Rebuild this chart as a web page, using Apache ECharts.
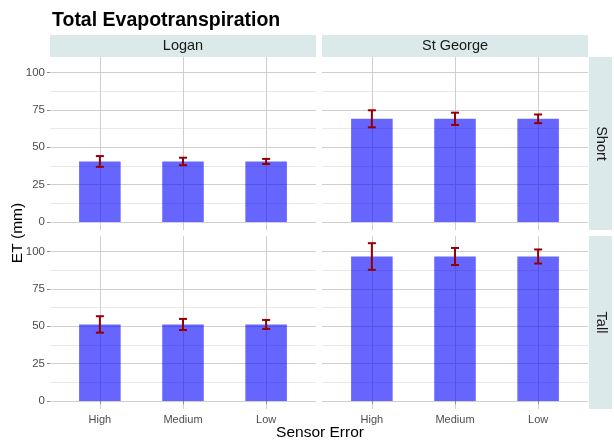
<!DOCTYPE html>
<html><head><meta charset="utf-8">
<script src="https://cdn.jsdelivr.net/npm/echarts@6/dist/echarts.min.js"></script>
<style>html,body{margin:0;padding:0;background:#fff}#chart{width:614px;height:441px}</style>
</head><body><div id="chart"></div>
<script>
// Sensor error classes on the x axis
const categories = ['High', 'Medium', 'Low'];
const sites = ['Logan', 'St George'];
const canopies = ['Short', 'Tall'];

// Mean total ET (mm) and error-bar half widths, one array per facet
const loganShortET = [40.5, 40.5, 40.5];
const loganShortErr = [3.6, 2.5, 1.7];
const loganTallET = [51.2, 51.2, 51.2];
const loganTallErr = [5.5, 3.7, 3.0];
const stGeorgeShortET = [69.0, 69.0, 69.0];
const stGeorgeShortErr = [5.7, 4.1, 2.9];
const stGeorgeTallET = [96.6, 96.6, 96.6];
const stGeorgeTallErr = [8.9, 5.7, 4.7];

const yMin = 0, yMax = 100, yStep = 25;

const FONT = '"Liberation Sans", Arial, Helvetica, sans-serif';
const panelLeft = [50, 322];
const panelTop = [57, 236];
const panelW = 266, panelH = 173;
const rangeLo = -5.3, rangeHi = 110.3;      // padded value range of each panel
const pxPerUnit = panelH / (rangeHi - rangeLo);
const catUnit = panelW / 3.2;               // width of one category step

const facets = [
  { row: 0, col: 0, et: loganShortET, err: loganShortErr },
  { row: 0, col: 1, et: stGeorgeShortET, err: stGeorgeShortErr },
  { row: 1, col: 0, et: loganTallET, err: loganTallErr },
  { row: 1, col: 1, et: stGeorgeTallET, err: stGeorgeTallErr }
];

const grids = [], xAxes = [], yAxes = [], series = [];
const majorColor = '#cfcfcf', minorColor = '#e9e9e9', tickColor = '#8a8a8a', labelColor = '#4d4d4d';

facets.forEach((f, i) => {
  const L = panelLeft[f.col], T = panelTop[f.row];
  const bottomRow = f.row === 1, leftCol = f.col === 0;
  // data grid: categories centred, full panel height
  grids.push({ left: L + 0.6 * catUnit, top: T, width: 2 * catUnit, height: panelH });
  xAxes.push({
    type: 'category', gridIndex: 2 * i, data: categories, boundaryGap: false,
    axisLine: { show: false },
    axisTick: { show: bottomRow, length: 3, lineStyle: { color: tickColor } },
    axisLabel: { show: bottomRow, fontFamily: FONT, fontSize: 11, color: labelColor, margin: 5 },
    splitLine: { show: true, lineStyle: { color: majorColor, width: 1 } }
  });
  yAxes.push({ type: 'value', gridIndex: 2 * i, min: rangeLo, max: rangeHi, show: false });

  // value grid: carries the horizontal grid lines and y labels
  grids.push({ left: L, top: T + (rangeHi - yMax) * pxPerUnit, width: panelW, height: (yMax - yMin) * pxPerUnit });
  xAxes.push({ type: 'value', gridIndex: 2 * i + 1, min: 0, max: 1, show: false });
  yAxes.push({
    type: 'value', gridIndex: 2 * i + 1, min: yMin, max: yMax, interval: yStep,
    axisLine: { show: false },
    axisTick: { show: leftCol, length: 3, lineStyle: { color: tickColor } },
    axisLabel: { show: leftCol, fontFamily: FONT, fontSize: 11.5, color: labelColor, margin: 5 },
    splitLine: { show: true, lineStyle: { color: majorColor, width: 1 } },
    minorTick: { show: false, splitNumber: 2 },
    minorSplitLine: { show: true, lineStyle: { color: minorColor, width: 1 } }
  });

  series.push({
    type: 'bar', xAxisIndex: 2 * i, yAxisIndex: 2 * i,
    data: f.et, barWidth: 0.5 * catUnit,
    itemStyle: { color: 'rgba(0,0,255,0.6)' },
    silent: true
  });
  series.push({
    type: 'custom', xAxisIndex: 2 * i, yAxisIndex: 2 * i,
    data: f.et.map((v, j) => [j, v - f.err[j], v + f.err[j]]),
    encode: { x: 0, y: [1, 2] },
    z: 5,
    renderItem: (params, api) => {
      const x = api.value(0);
      const pLo = api.coord([x, api.value(1)]);
      const pHi = api.coord([x, api.value(2)]);
      const w = 4;
      const style = { stroke: '#940000', lineWidth: 2, fill: null };
      return {
        type: 'group', children: [
          { type: 'line', shape: { x1: pLo[0], y1: pLo[1], x2: pHi[0], y2: pHi[1] }, style },
          { type: 'line', shape: { x1: pLo[0] - w, y1: pLo[1], x2: pLo[0] + w, y2: pLo[1] }, style },
          { type: 'line', shape: { x1: pHi[0] - w, y1: pHi[1], x2: pHi[0] + w, y2: pHi[1] }, style }
        ]
      };
    }
  });
});

// facet strips
const stripFill = '#dce9ea';
const graphic = [];
sites.forEach((s, c) => {
  graphic.push({ type: 'rect', shape: { x: panelLeft[c], y: 35, width: panelW, height: 22 }, style: { fill: stripFill }, silent: true });
  graphic.push({ type: 'text', x: panelLeft[c] + panelW / 2, y: 46, style: { text: s, font: '14.5px ' + FONT, fill: '#1a1a1a', align: 'center', verticalAlign: 'middle' }, silent: true });
});
canopies.forEach((h, r) => {
  graphic.push({ type: 'rect', shape: { x: 589, y: panelTop[r], width: 23, height: panelH }, style: { fill: stripFill }, silent: true });
  graphic.push({ type: 'text', x: 600.5, y: panelTop[r] + panelH / 2, rotation: -Math.PI / 2, style: { text: h, font: '14.5px ' + FONT, fill: '#1a1a1a', align: 'center', verticalAlign: 'middle' }, silent: true });
});
graphic.push({ type: 'text', x: 18, y: 233, rotation: Math.PI / 2, style: { text: 'ET (mm)', font: '15.5px ' + FONT, fill: '#000', align: 'center', verticalAlign: 'middle' }, silent: true });
graphic.push({ type: 'text', x: 320, y: 433, style: { text: 'Sensor Error', font: '15.5px ' + FONT, fill: '#000', align: 'center', verticalAlign: 'middle' }, silent: true });

const chart = echarts.init(document.getElementById('chart'), null, { renderer: 'canvas' });
chart.setOption({
  animation: false,
  backgroundColor: '#ffffff',
  title: { text: 'Total Evapotranspiration', left: 47, top: 6, textStyle: { fontFamily: FONT, fontSize: 19.5, fontWeight: 'bold', color: '#000' } },
  grid: grids, xAxis: xAxes, yAxis: yAxes, series, graphic
});
</script></body></html>
